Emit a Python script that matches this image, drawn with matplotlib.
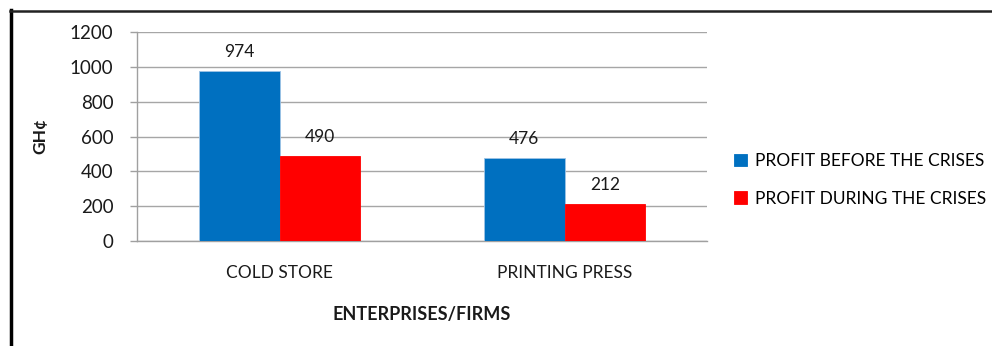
import matplotlib
matplotlib.use("Agg")
import matplotlib.pyplot as plt
import numpy as np
from matplotlib.lines import Line2D

plt.rcParams['font.family'] = ['Lato', 'DejaVu Sans']

categories = ["COLD STORE", "PRINTING PRESS"]
series_names = ["PROFIT BEFORE THE CRISES", "PROFIT DURING THE CRISES"]
before = [974, 476]
during = [490, 212]
y_ticks = [0, 200, 400, 600, 800, 1000, 1200]
colors = ["#0070C0", "#FF0000"]

W, H = 992, 346
fig = plt.figure(figsize=(W / 100, H / 100), dpi=100)
ax = fig.add_axes([137 / W, 1 - 241 / H, (707 - 137) / W, (241 - 32) / H])

x = np.arange(len(categories))
bw = 0.284
bars = []
for i, (vals, name, c) in enumerate(zip([before, during], series_names, colors)):
    b = ax.bar(x + (i - 0.5) * bw, vals, width=bw, color=c, label=name,
               edgecolor="#9DC3E6" if i == 0 else c, linewidth=0.6, zorder=3)
    bars.append(b)
    for rect, v in zip(b, vals):
        ax.annotate(str(v), (rect.get_x() + rect.get_width() / 2, rect.get_height()),
                    xytext=(0, 8), textcoords="offset points", ha="center", va="bottom",
                    fontsize=12.5, color="#1a1a1a")

ax.set_xlim(-0.5, 1.5)
ax.set_ylim(0, 1200)
ax.set_yticks(y_ticks)
ax.set_yticklabels([str(t) for t in y_ticks], fontsize=13.5, color="#1a1a1a")
ax.set_xticks(x)
ax.set_xticklabels(categories, fontsize=12.5, color="#1a1a1a")
ax.tick_params(axis="x", length=0, pad=17)
ax.tick_params(axis="y", length=5, width=1, color="#A0A0A0", pad=12)
ax.yaxis.grid(True, color="#A6A6A6", linewidth=1, zorder=0)
ax.set_axisbelow(True)
for s in ["top", "right"]:
    ax.spines[s].set_visible(False)
for s in ["left", "bottom"]:
    ax.spines[s].set_color("#A0A0A0")
    ax.spines[s].set_linewidth(1)

ax.set_xlabel("ENTERPRISES/FIRMS", fontsize=13, fontweight="bold", labelpad=18, color="#1a1a1a")
ax.set_ylabel("GH¢", fontsize=12.5, fontweight="bold", color="#1a1a1a")
ax.yaxis.set_label_coords((48 - 137) / 570, 0.5)

leg = fig.legend(handles=[bars[0], bars[1]], labels=series_names, loc="center left",
                 bbox_to_anchor=(718 / W, 1 - 180 / H), frameon=False, fontsize=12.5,
                 handlelength=0.75, handleheight=0.75, handletextpad=0.5, labelspacing=1.25)
for h in leg.legend_handles:
    h.set_edgecolor(h.get_facecolor())

# outer frame
fig.add_artist(Line2D([11 / W, 11 / W], [0, 1 - 10 / H], transform=fig.transFigure,
                      color="black", linewidth=2.5))
fig.add_artist(Line2D([10 / W, 1], [1 - 10.5 / H, 1 - 10.5 / H], transform=fig.transFigure,
                      color="#222222", linewidth=1.8))

fig.savefig("out.png", dpi=100)
